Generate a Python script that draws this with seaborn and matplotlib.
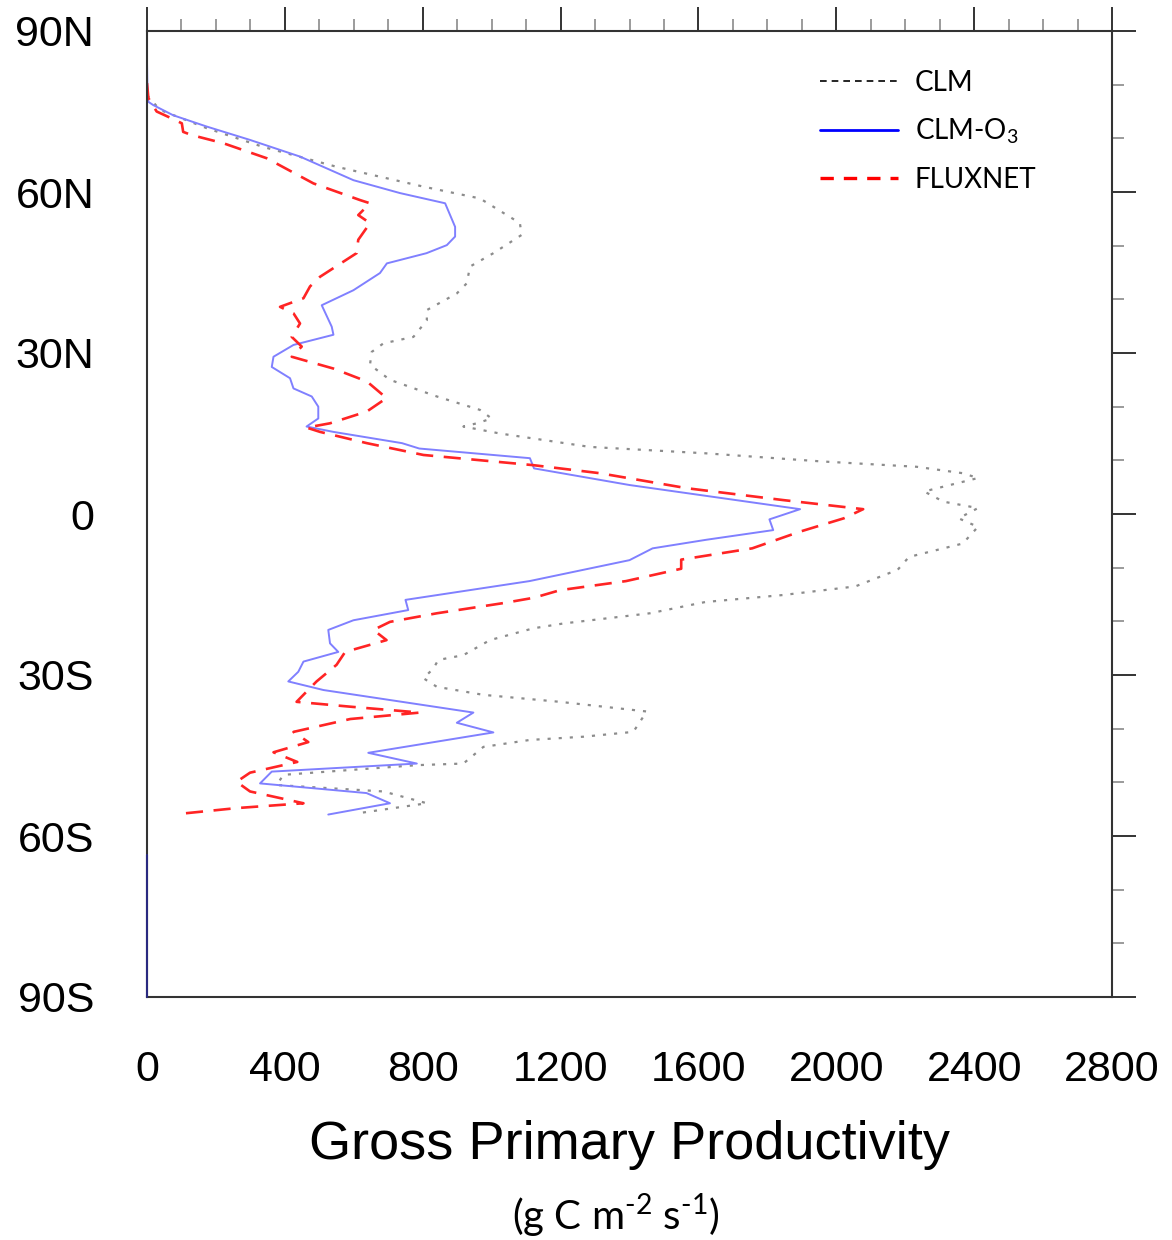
import matplotlib
matplotlib.use("Agg")
import matplotlib.pyplot as plt
from matplotlib.lines import Line2D
from matplotlib.ticker import MultipleLocator
import pandas as pd
import seaborn as sns

# zonal mean GPP (north -> south)
clm_lat = [78, 75.3, 71.9, 68.4, 64.7, 61.0, 58.8, 54.2, 52.0, 48.6, 46.1, 43.0, 41.1, 38.0, 36.1,
           33.0, 31.8, 30.2, 27.8, 25.0, 21.9, 19.4, 17.8, 16.9, 16.3, 15.0, 12.5, 11.3, 9.8, 8.8,
           7.6, 6.7, 4.2, 2.3, 1.1, -0.8, -2.4, -5.5, -8.0, -10.4, -13.5, -15.1, -16.4, -18.5,
           -20.4, -21.3, -23.5, -26.3, -27.2, -28.8, -30.6, -32.2, -33.7, -35.0, -36.8, -40.6,
           -41.5, -42.1, -43.4, -46.5, -46.8, -48.6, -50.5, -51.7, -53.9, -55.8]
clm_gpp = [0, 38, 173, 337, 550, 802, 966, 1082, 1087, 1005, 937, 928, 899, 812, 812,
           773, 686, 652, 647, 705, 841, 966, 1000, 957, 918, 1024, 1285, 1623, 1956, 2233,
           2367, 2411, 2255, 2311, 2411, 2355, 2411, 2367, 2211, 2178, 2055, 1845, 1620, 1459,
           1208, 1121, 995, 918, 845, 831, 802, 841, 976, 1198, 1450, 1411,
           1266, 1111, 976, 918, 783, 396, 376, 686, 812, 608]

o3_lat = [84.3, 80, 76.8, 76.2, 74.3, 72.2, 69.7, 66.6, 62.2, 59.8, 57.9, 53.5, 51.7, 50.1, 48.6,
          46.7, 44.9, 41.7, 38.9, 34.9, 33.4, 31.5, 29.3, 27.4, 25.3, 23.4, 21.9, 20.0, 17.8, 16.3,
          15.3, 13.2, 12.2, 10.4, 8.5, 5.4, 0.9, -1.0, -3.0, -4.8, -6.4, -8.6, -12.5, -16.0,
          -17.9, -19.8, -21.6, -24.1, -25.7, -27.5, -29.4, -31.2, -32.8, -37.0, -38.9, -40.7,
          -44.5, -46.5, -48.0, -50.2, -52.0, -53.9, -56.0]
o3_gpp = [0, 1, 4, 18, 76, 173, 299, 444, 599, 734, 865, 894, 894, 870, 811,
          696, 676, 599, 507, 536, 541, 425, 367, 362, 415, 425, 478, 497, 497, 463,
          541, 740, 790, 1111, 1123, 1400, 1895, 1806, 1817, 1623, 1467, 1400, 1110, 750,
          758, 599, 526, 531, 555, 454, 439, 410, 512, 947, 899, 1005,
          642, 783, 362, 328, 637, 705, 526]
# Antarctica, zero productivity
ant_lat = [-63.5, -90]
ant_gpp = [0, 0]

flux_lat = [80.3, 77.5, 75.0, 73.7, 72.8, 71.2, 70.6, 69.1, 66.3, 61.6, 58.5, 57.9, 55.7, 54.2,
            51.1, 48.6, 44.2, 42.4, 40.2, 38.6, 37.4, 35.5, 33.0, 31.2, 29.3, 27.1, 24.7, 21.6,
            19.1, 16.9, 16.1, 15.3, 13.2, 11.0, 9.1, 7.6, 4.8, 2.6, 0.9, -0.8, -3.3, -6.4, -8.5,
            -10.2, -12.5, -14.2, -15.6, -16.6, -18.5, -20.1, -21.6, -23.5, -25.7, -28.1, -31.2,
            -35.0, -35.9, -37.0, -38.2, -40.6, -42.5, -44.4, -46.2, -48.2, -49.9, -51.7, -53.9,
            -54.8, -55.9]
flux_gpp = [0, 4, 28, 72, 101, 105, 130, 221, 347, 483, 618, 647, 613, 647,
            613, 608, 502, 473, 454, 386, 425, 444, 420, 449, 420, 541, 638, 695,
            638, 531, 463, 502, 638, 802, 1121, 1314, 1567, 1845, 2078, 2022, 1894, 1756, 1550,
            1550, 1390, 1198, 1123, 1034, 841, 705, 657, 695, 575, 550, 492,
            434, 589, 792, 590, 425, 468, 367, 436, 299, 260, 299, 454,
            260, 91]

lat_ticks = [90, 60, 30, 0, -30, -60, -90]
lat_labels = ["90N", "60N", "30N", "0", "30S", "60S", "90S"]

sns.set_style("white")
plt.rcParams["font.family"] = ["Liberation Sans", "DejaVu Sans"]
plt.rcParams["text.color"] = "black"
plt.rcParams["axes.labelcolor"] = "black"
plt.rcParams["xtick.labelcolor"] = "black"
plt.rcParams["ytick.labelcolor"] = "black"

fig = plt.figure(figsize=(11.72, 12.4), dpi=100)
ax = fig.add_axes([147 / 1172, 1 - 997 / 1240, 965 / 1172, 966 / 1240])

clm = pd.DataFrame({"lat": clm_lat, "gpp": clm_gpp})
o3 = pd.DataFrame({"lat": o3_lat, "gpp": o3_gpp})
ant = pd.DataFrame({"lat": ant_lat, "gpp": ant_gpp})
flux = pd.DataFrame({"lat": flux_lat, "gpp": flux_gpp})

sns.lineplot(data=clm, x="gpp", y="lat", sort=False, estimator=None, ax=ax,
             color="#8c8c8c", lw=1.6, linestyle=(0, (1.4, 3.6)))
sns.lineplot(data=o3, x="gpp", y="lat", sort=False, estimator=None, ax=ax,
             color="#8080ff", lw=1.4)
sns.lineplot(data=ant, x="gpp", y="lat", sort=False, estimator=None, ax=ax,
             color="#2a2a80", lw=1.5, clip_on=False, zorder=5)
sns.lineplot(data=flux, x="gpp", y="lat", sort=False, estimator=None, ax=ax,
             color="#ff2424", lw=1.9, linestyle=(0, (6.5, 4)))

ax.set_xlim(0, 2800)
ax.set_ylim(-90, 90)
ax.xaxis.set_major_locator(MultipleLocator(400))
ax.xaxis.set_minor_locator(MultipleLocator(100))
ax.set_yticks(lat_ticks)
ax.set_yticklabels(lat_labels)
ax.yaxis.set_minor_locator(MultipleLocator(10))

for s in ax.spines.values():
    s.set_linewidth(1.5)
    s.set_color("#333333")
ax.tick_params(which="both", direction="out", top=True, right=True,
               labeltop=False, labelright=False)
ax.tick_params(which="major", length=17, width=1.4, color="#333333",
               labelsize=31, pad=21)
ax.tick_params(which="minor", length=8.5, width=1.2, color="#8a8a8a")

ax.set_xlabel("Gross Primary Productivity", fontsize=39, labelpad=22)
ax.set_ylabel("")

fig.text(0.525, 0.0, "(g C m$^{\\mathregular{\u2010 2}}$ s$^{\\mathregular{\u2010 1}}$)",
         ha="center", va="bottom", fontsize=29, family=["Lato", "DejaVu Sans"])

handles = [
    Line2D([], [], color="black", lw=1.2, linestyle=(0, (4, 3))),
    Line2D([], [], color="#0000ff", lw=2),
    Line2D([], [], color="#ff0000", lw=2.4, linestyle=(0, (4, 3))),
]
labels = ["CLM", r"CLM-O$_\mathregular{3}$", "FLUXNET"]
leg = fig.legend(handles, labels, loc="upper left", bbox_to_anchor=(0.688, 0.955),
                 frameon=False, handlelength=2.8, handletextpad=0.6, labelspacing=0.75,
                 prop={"family": ["Lato", "DejaVu Sans"], "size": 20}, borderpad=0)

fig.savefig("out.png", dpi=100)
